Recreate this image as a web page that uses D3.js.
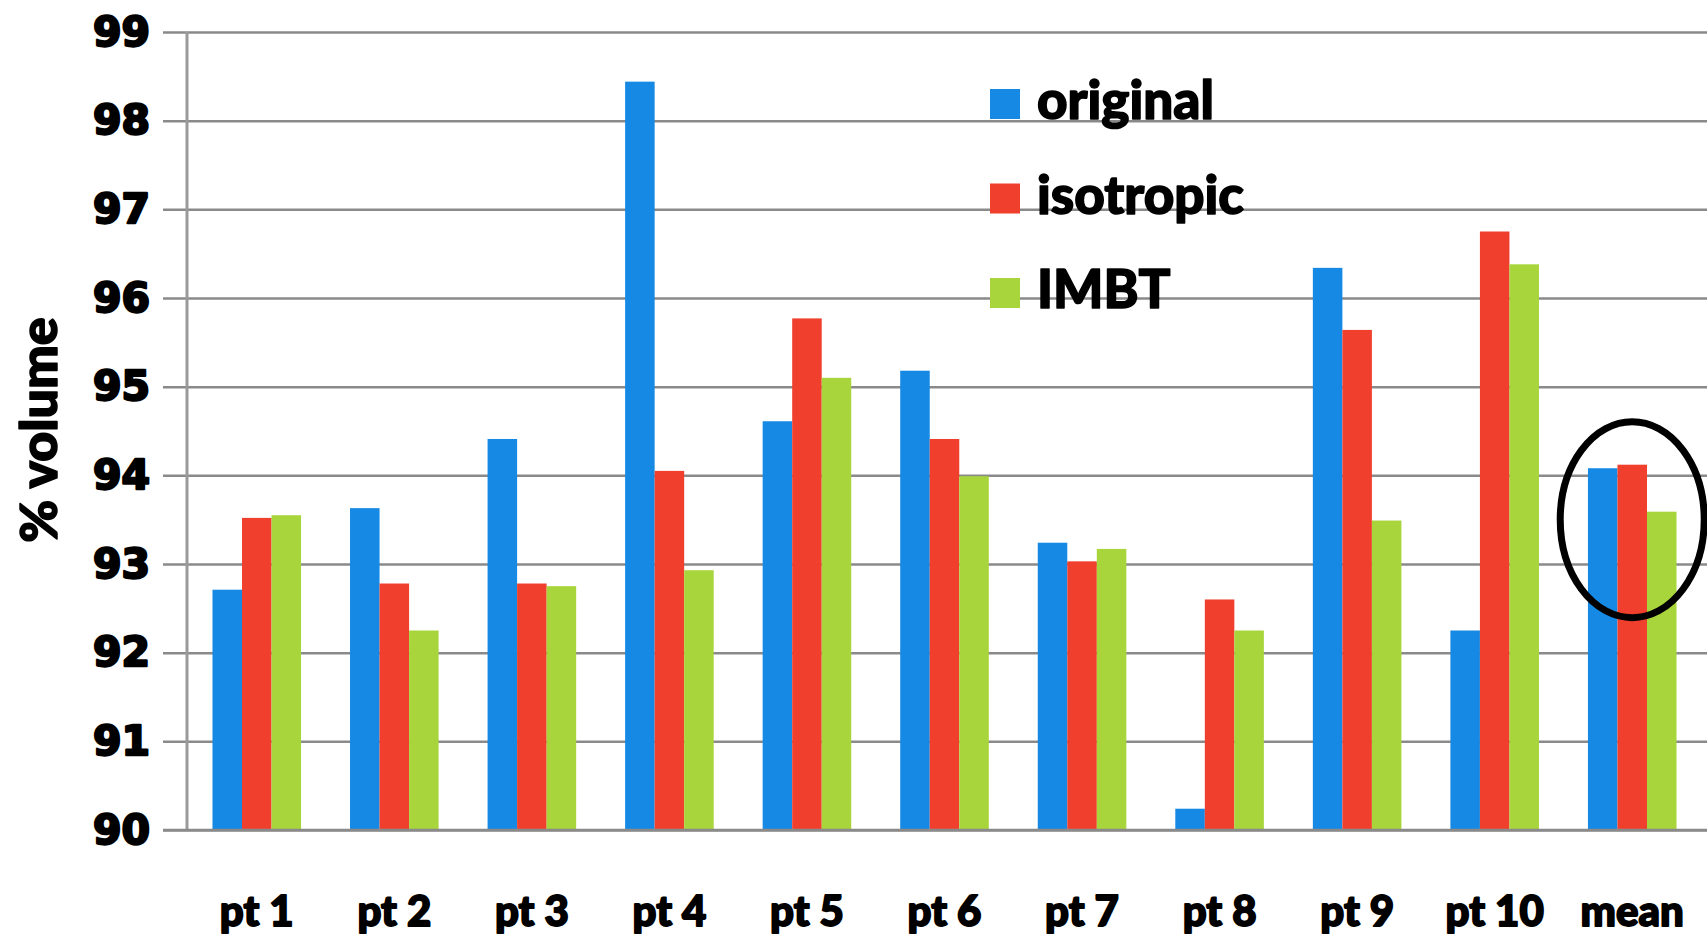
<!DOCTYPE html>
<html>
<head>
<meta charset="utf-8">
<script src="https://cdn.jsdelivr.net/npm/d3@7"></script>
<style>
  html, body { margin: 0; padding: 0; background: #fff; }
  svg { display: block; }
</style>
</head>
<body>
<svg id="chart" width="1707" height="937"></svg>
<script>
const categories = ["pt 1", "pt 2", "pt 3", "pt 4", "pt 5", "pt 6", "pt 7", "pt 8", "pt 9", "pt 10", "mean"];
const seriesNames = ["original", "isotropic", "IMBT"];
const originalValues  = [92.71, 93.63, 94.41, 98.44, 94.61, 95.18, 93.24, 90.24, 96.34, 92.25, 94.08];
const isotropicValues = [93.52, 92.78, 92.78, 94.05, 95.77, 94.41, 93.03, 92.60, 95.64, 96.75, 94.12];
const imbtValues      = [93.55, 92.25, 92.75, 92.93, 95.10, 93.99, 93.17, 92.25, 93.49, 96.38, 93.59];
const yTickValues = [90, 91, 92, 93, 94, 95, 96, 97, 98, 99];
const yTitle = "% volume";

const seriesValues = [originalValues, isotropicValues, imbtValues];
const colors = ["#1589E4", "#F0402D", "#A8D53C"];

const svg = d3.select("#chart");
const W = 1707;

const plotLeft = 188, plotRight = 1701, plotTop = 32, plotBottom = 830;

const x0 = d3.scaleBand().domain(categories).range([plotLeft, plotRight])
  .paddingInner(0.356).paddingOuter(0.178);
const x1 = d3.scaleBand().domain(seriesNames).range([0, x0.bandwidth()]).padding(0);
const y = d3.scaleLinear().domain([90, 99]).range([plotBottom, plotTop]);
const color = d3.scaleOrdinal().domain(seriesNames).range(colors);

// gridlines + y tick labels
const gridX = 163;
const yAxis = svg.append("g")
  .attr("transform", `translate(${gridX},0)`)
  .call(d3.axisLeft(y).tickValues(yTickValues).tickFormat(d3.format("d"))
        .tickSize(-(W - gridX)).tickPadding(13));
yAxis.select(".domain").remove();
yAxis.selectAll(".tick line").attr("stroke", "#8a8a8a").attr("stroke-width", 2.5);
yAxis.selectAll(".tick text")
  .attr("fill", "#000")
  .attr("stroke", "#000").attr("stroke-width", 2.4)
  .attr("stroke-linejoin", "round")
  .style("font-family", "'DejaVu Sans', Verdana, sans-serif")
  .style("font-weight", "bold")
  .style("font-size", "41px");

// vertical axis line
svg.append("line")
  .attr("x1", 187).attr("x2", 187)
  .attr("y1", y(99)).attr("y2", y(90))
  .attr("stroke", "#9a9a9a").attr("stroke-width", 3);

// bars
const groups = svg.append("g").selectAll("g")
  .data(categories)
  .join("g")
  .attr("transform", d => `translate(${x0(d)},0)`);

groups.selectAll("rect")
  .data((d, i) => seriesNames.map((s, j) => ({ s, v: seriesValues[j][i] })))
  .join("rect")
  .attr("x", d => x1(d.s))
  .attr("width", x1.bandwidth())
  .attr("y", d => y(d.v))
  .attr("height", d => y(90) - y(d.v))
  .attr("fill", d => color(d.s));

// redraw baseline over bars
svg.append("line")
  .attr("x1", gridX).attr("x2", W)
  .attr("y1", y(90)).attr("y2", y(90))
  .attr("stroke", "#8a8a8a").attr("stroke-width", 2.5);

// x labels
const xAxis = svg.append("g")
  .attr("transform", `translate(0,${plotBottom})`)
  .call(d3.axisBottom(x0).tickSize(0));
xAxis.select(".domain").remove();
xAxis.selectAll(".tick text")
  .attr("y", 96).attr("dy", 0)
  .attr("fill", "#000")
  .attr("stroke", "#000").attr("stroke-width", 1.8)
  .attr("stroke-linejoin", "round")
  .style("font-family", "Lato, 'Open Sans', sans-serif")
  .style("font-weight", "900")
  .style("font-size", "42px");

// y title
svg.append("text")
  .attr("transform", "translate(57,430) rotate(-90)")
  .attr("text-anchor", "middle")
  .attr("fill", "#000")
  .attr("stroke", "#000").attr("stroke-width", 1.5)
  .attr("stroke-linejoin", "round")
  .style("font-family", "Lato, 'Open Sans', sans-serif")
  .style("font-weight", "900")
  .style("font-size", "52px")
  .text(yTitle);

// legend
const legend = svg.append("g").attr("transform", "translate(990,89)");
const legendItems = legend.selectAll("g")
  .data(seriesNames)
  .join("g")
  .attr("transform", (d, i) => `translate(0,${i * 94.5})`);
legendItems.append("rect")
  .attr("width", 30).attr("height", 30)
  .attr("fill", d => color(d));
legendItems.append("text")
  .attr("x", 47).attr("y", 30)
  .attr("fill", "#000")
  .attr("stroke", "#000").attr("stroke-width", 1.5)
  .attr("stroke-linejoin", "round")
  .style("font-family", "Lato, 'Open Sans', sans-serif")
  .style("font-weight", "900")
  .style("font-size", "53px")
  .text(d => d);

// ellipse annotation around mean
svg.append("ellipse")
  .attr("cx", x0("mean") + x0.bandwidth() / 2)
  .attr("cy", y(93.5))
  .attr("rx", 72).attr("ry", 98)
  .attr("fill", "none")
  .attr("stroke", "#000").attr("stroke-width", 7);
</script>
</body>
</html>
